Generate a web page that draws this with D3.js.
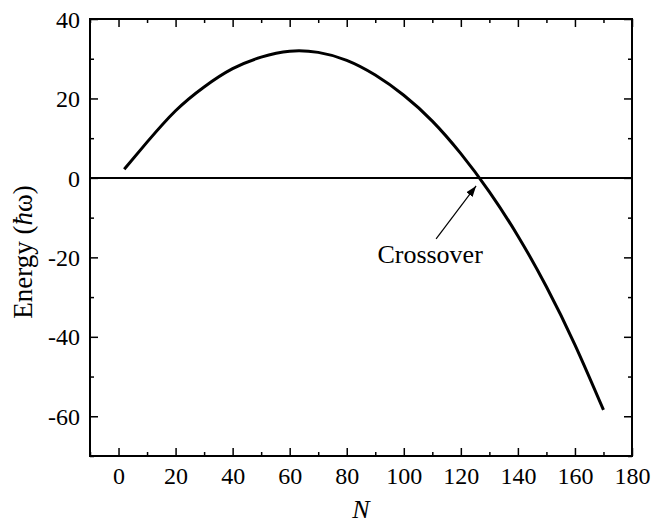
<!DOCTYPE html>
<html>
<head>
<meta charset="utf-8">
<script src="https://cdn.jsdelivr.net/npm/d3@7"></script>
<style>
  body { margin: 0; background: #fff; }
  text { font-family: "Liberation Serif", "DejaVu Serif", serif; fill: #000; }
</style>
</head>
<body>
<div id="chart"></div>
<script>
// valores
const nValues = [2, 10, 20, 30, 40, 50, 60, 70, 80, 90, 100, 110, 120, 130, 140, 150, 160, 170];
const energyValues = [2.2, 9.0, 16.9, 22.9, 27.5, 30.4, 31.9, 31.6, 29.6, 25.9, 20.8, 14.3, 6.1, -3.5, -14.6, -27.4, -42.0, -58.4];
const xMajorTicks = [0, 20, 40, 60, 80, 100, 120, 140, 160, 180];
const xMinorTicks = [-10, 10, 30, 50, 70, 90, 110, 130, 150, 170];
const yMajorTicks = [-60, -40, -20, 0, 20, 40];
const yMinorTicks = [-70, -50, -30, -10, 10, 30];
const crossover = { n: 126.4, label: "Crossover" };

const width = 663;
const height = 527;
const plotLeft = 90, plotRight = 632, plotTop = 19, plotBottom = 456;

const x = d3.scaleLinear().domain([-10, 180]).range([plotLeft, plotRight]);
const y = d3.scaleLinear().domain([-70, 40]).range([plotBottom, plotTop]);

const fmt = d => String(d); // guion normal, no signo menos unicode

const svg = d3.select("#chart").append("svg")
  .attr("width", width)
  .attr("height", height);

// linea de cero
svg.append("line")
  .attr("x1", plotLeft).attr("x2", plotRight)
  .attr("y1", y(0)).attr("y2", y(0))
  .attr("stroke", "#000").attr("stroke-width", 2);

// ejes (ticks hacia adentro en los 4 lados)
const major = 8, minor = 4;
svg.append("g").attr("class", "xaxis").attr("transform", `translate(0,${plotBottom})`)
  .call(d3.axisBottom(x).tickValues(xMajorTicks).tickSize(-major).tickPadding(11).tickFormat(fmt));
svg.append("g").attr("transform", `translate(0,${plotBottom})`)
  .call(d3.axisBottom(x).tickValues(xMinorTicks).tickSize(-minor).tickFormat(""));
svg.append("g").attr("transform", `translate(0,${plotTop})`)
  .call(d3.axisTop(x).tickValues(xMajorTicks).tickSize(-major).tickFormat(""));
svg.append("g").attr("transform", `translate(0,${plotTop})`)
  .call(d3.axisTop(x).tickValues(xMinorTicks).tickSize(-minor).tickFormat(""));
svg.append("g").attr("class", "yaxis").attr("transform", `translate(${plotLeft},0)`)
  .call(d3.axisLeft(y).tickValues(yMajorTicks).tickSize(-major).tickPadding(10).tickFormat(fmt));
svg.append("g").attr("transform", `translate(${plotLeft},0)`)
  .call(d3.axisLeft(y).tickValues(yMinorTicks).tickSize(-minor).tickFormat(""));
svg.append("g").attr("transform", `translate(${plotRight},0)`)
  .call(d3.axisRight(y).tickValues(yMajorTicks).tickSize(-major).tickFormat(""));
svg.append("g").attr("transform", `translate(${plotRight},0)`)
  .call(d3.axisRight(y).tickValues(yMinorTicks).tickSize(-minor).tickFormat(""));

svg.selectAll(".domain").remove();
svg.selectAll("g").attr("font-family", null);
svg.selectAll(".tick line").attr("stroke", "#000").attr("stroke-width", 1.5);
svg.selectAll(".tick text")
  .attr("font-size", "24px")
  .style("font-family", "'Liberation Serif', serif")
  .attr("fill", "#000");
svg.selectAll(".yaxis .tick text").attr("dy", "0.34em");

// marco
svg.append("rect")
  .attr("x", plotLeft).attr("y", plotTop)
  .attr("width", plotRight - plotLeft).attr("height", plotBottom - plotTop)
  .attr("fill", "none").attr("stroke", "#000").attr("stroke-width", 2);

// curva
const points = nValues.map((n, i) => ({ n: n, e: energyValues[i] }));
const line = d3.line()
  .x(d => x(d.n))
  .y(d => y(d.e))
  .curve(d3.curveNatural);

svg.append("path")
  .datum(points)
  .attr("d", line)
  .attr("fill", "none")
  .attr("stroke", "#000")
  .attr("stroke-width", 3);

// flecha "Crossover"
svg.append("defs").append("marker")
  .attr("id", "arrow")
  .attr("viewBox", "0 0 10 10")
  .attr("refX", 10).attr("refY", 5)
  .attr("markerWidth", 11).attr("markerHeight", 11)
  .attr("markerUnits", "userSpaceOnUse")
  .attr("orient", "auto")
  .append("path")
  .attr("d", "M0,1.5 L10,5 L0,8.5 Z")
  .attr("fill", "#000");

svg.append("line")
  .attr("x1", x(crossover.n) - 43).attr("y1", y(0) + 61)
  .attr("x2", x(crossover.n) - 3).attr("y2", y(0) + 8)
  .attr("stroke", "#000").attr("stroke-width", 1.2)
  .attr("marker-end", "url(#arrow)");

svg.append("text")
  .attr("x", x(crossover.n) - 49)
  .attr("y", y(0) + 85)
  .attr("text-anchor", "middle")
  .attr("font-size", "26px")
  .text(crossover.label);

// titulos de ejes
svg.append("text")
  .attr("x", (plotLeft + plotRight) / 2)
  .attr("y", 518)
  .attr("text-anchor", "middle")
  .attr("font-size", "26px")
  .attr("font-style", "italic")
  .text("N");

const yLabel = svg.append("text")
  .attr("transform", "translate(32,252) rotate(-90)")
  .attr("text-anchor", "middle")
  .attr("font-size", "27px");
yLabel.append("tspan").text("Energy (");
yLabel.append("tspan").attr("font-style", "italic").text("ħ");
yLabel.append("tspan").text("ω)");
</script>
</body>
</html>
